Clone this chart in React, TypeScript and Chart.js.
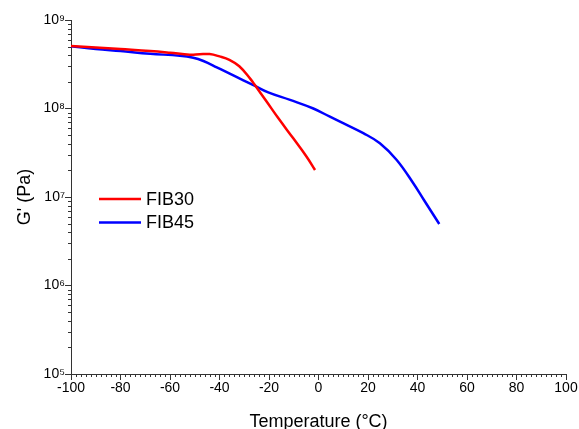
import React, { useEffect, useRef } from "react";
import { Chart, registerables } from "chart.js";

Chart.register(...registerables);

// ---- Data ----
const fib30Temp = [-100, -90, -80, -68, -60, -52, -48, -44, -40, -36, -32, -27.7, -25.7, -20.9, -16.2, -10.2, -4.8, -1.4];
const fib30G = [5.1e8, 4.9e8, 4.7e8, 4.47e8, 4.27e8, 4.05e8, 4.1e8, 4.12e8, 3.88e8, 3.55e8, 3.0e8, 2.19e8, 1.84e8, 1.19e8, 7.74e7, 4.6e7, 2.85e7, 2.02e7];

const fib45Temp = [-100, -90, -80, -68, -56, -50.6, -46.5, -41.1, -34.4, -26.3, -20.3, -11.5, -2.1, 4.6, 8.7, 18.1, 24.8, 31.6, 38.3, 42.6, 48.8];
const fib45G = [5.05e8, 4.7e8, 4.45e8, 4.15e8, 3.95e8, 3.75e8, 3.44e8, 2.92e8, 2.36e8, 1.84e8, 1.52e8, 1.25e8, 1.0e8, 8.07e7, 7.1e7, 5.26e7, 4.05e7, 2.62e7, 1.43e7, 9.25e6, 4.95e6];

const seriesLabels = ["FIB30", "FIB45"];
const seriesColors = ["#ff0000", "#0000ff"];

const xMin = -100;
const xMax = 100;
const xStep = 20;
const xMinorStep = 2;

const yTickValues = [1e5, 1e6, 1e7, 1e8, 1e9];
const yTickLabels = ["10⁵", "10⁶", "10⁷", "10⁸", "10⁹"];

const xTitle = "Temperature (°C)";
const yTitle = "G' (Pa)";

const FONT = "'Liberation Sans', Arial, sans-serif";
const AXIS_COLOR = "#333333";

const minorTicksPlugin = {
  id: "minorTicks",
  afterDraw(chart: any) {
    const ctx = chart.ctx;
    const xs = chart.scales.x;
    const ys = chart.scales.y;
    const area = chart.chartArea;
    ctx.save();
    ctx.strokeStyle = AXIS_COLOR;
    ctx.lineWidth = 1;
    ctx.beginPath();
    for (let v = xMin; v <= xMax + 1e-9; v += xMinorStep) {
      if (Math.abs(v % xStep) < 1e-9) continue;
      const px = Math.round(xs.getPixelForValue(v)) + 0.5;
      ctx.moveTo(px, area.bottom);
      ctx.lineTo(px, area.bottom + 3);
    }
    for (let i = 0; i < yTickValues.length - 1; i++) {
      for (let k = 2; k <= 9; k++) {
        const py = Math.round(ys.getPixelForValue(yTickValues[i] * k)) + 0.5;
        ctx.moveTo(area.left - 3, py);
        ctx.lineTo(area.left, py);
      }
    }
    ctx.stroke();
    ctx.restore();
  },
};

const customLegendPlugin = {
  id: "customLegend",
  afterDraw(chart: any) {
    const ctx = chart.ctx;
    const area = chart.chartArea;
    const x0 = area.left + 28;
    const lineLen = 42;
    const y0 = 199;
    const gap = 23.5;
    ctx.save();
    ctx.font = `18px ${FONT}`;
    ctx.textBaseline = "middle";
    ctx.textAlign = "left";
    chart.data.datasets.forEach((ds: any, i: number) => {
      const y = y0 + i * gap;
      ctx.strokeStyle = ds.borderColor;
      ctx.lineWidth = 2.5;
      ctx.beginPath();
      ctx.moveTo(x0, y);
      ctx.lineTo(x0 + lineLen, y);
      ctx.stroke();
      ctx.fillStyle = "#000";
      ctx.fillText(ds.label, x0 + lineLen + 5, y + 1);
    });
    ctx.restore();
  },
};

export default function App() {
  const canvasRef = useRef<HTMLCanvasElement | null>(null);

  useEffect(() => {
    if (!canvasRef.current) return;
    const toPts = (t: number[], g: number[]) => t.map((x, i) => ({ x, y: g[i] }));
    const chart = new Chart(canvasRef.current, {
      type: "line",
      data: {
        datasets: [
          {
            label: seriesLabels[0],
            data: toPts(fib30Temp, fib30G),
            borderColor: seriesColors[0],
            backgroundColor: seriesColors[0],
            borderWidth: 2.5,
            pointRadius: 0,
            tension: 0.4,
          },
          {
            label: seriesLabels[1],
            data: toPts(fib45Temp, fib45G),
            borderColor: seriesColors[1],
            backgroundColor: seriesColors[1],
            borderWidth: 2.5,
            pointRadius: 0,
            tension: 0.4,
          },
        ],
      },
      options: {
        animation: false,
        responsive: true,
        maintainAspectRatio: false,
        layout: { padding: { left: 14, top: 20, right: 13, bottom: 0 } },
        plugins: {
          legend: { display: false },
          tooltip: { enabled: false },
        },
        scales: {
          x: {
            type: "linear",
            min: xMin,
            max: xMax,
            afterFit: (s: any) => {
              s.height = 59;
            },
            ticks: {
              stepSize: xStep,
              color: "#000",
              font: { family: FONT, size: 14 },
              padding: 0,
              maxRotation: 0,
            },
            grid: {
              display: true,
              drawOnChartArea: false,
              drawTicks: true,
              tickLength: 6,
              tickColor: AXIS_COLOR,
            },
            border: { display: true, color: AXIS_COLOR, width: 1 },
            title: {
              display: true,
              text: xTitle,
              color: "#000",
              font: { family: FONT, size: 18 },
              padding: 0,
            },
          },
          y: {
            type: "logarithmic",
            min: yTickValues[0],
            max: yTickValues[yTickValues.length - 1],
            afterFit: (s: any) => {
              s.width = 57;
            },
            afterBuildTicks: (s: any) => {
              s.ticks = yTickValues.map((v) => ({ value: v, major: true }));
            },
            ticks: {
              color: "#000",
              font: { family: FONT, size: 14 },
              padding: 0,
              callback: (_v: any, i: number) => yTickLabels[i],
            },
            grid: {
              display: true,
              drawOnChartArea: false,
              drawTicks: true,
              tickLength: 6,
              tickColor: AXIS_COLOR,
            },
            border: { display: true, color: AXIS_COLOR, width: 1 },
            title: {
              display: true,
              text: yTitle,
              color: "#000",
              font: { family: FONT, size: 18 },
              padding: 0,
            },
          },
        },
      },
      plugins: [minorTicksPlugin, customLegendPlugin],
    });
    return () => chart.destroy();
  }, []);

  return (
    <div style={{ position: "fixed", left: 0, top: 0, width: 579, height: 433, background: "#fff" }}>
      <canvas ref={canvasRef} />
    </div>
  );
}
